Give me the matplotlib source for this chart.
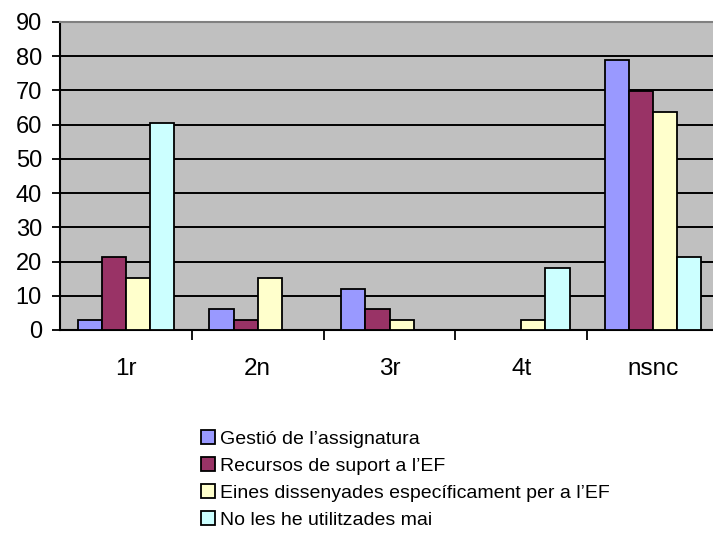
import matplotlib
matplotlib.use('Agg')
import matplotlib.pyplot as plt
import numpy as np

categories = ['1r', '2n', '3r', '4t', 'nsnc']
series_names = ['Gestió de l’assignatura',
                'Recursos de suport a l’EF',
                'Eines dissenyades específicament per a l’EF',
                'No les he utilitzades mai']
gestio = [3.0, 6.1, 12.1, 0, 78.8]
recursos = [21.2, 3.0, 6.1, 0, 69.7]
eines = [15.2, 15.2, 3.0, 3.0, 63.6]
no_util = [60.6, 0, 0, 18.2, 21.2]
colors = ['#9999FF', '#993366', '#FFFFCC', '#CCFFFF']

plt.rcParams['font.family'] = ['Liberation Sans', 'DejaVu Sans']

fig = plt.figure(figsize=(7.13, 5.46), dpi=100)
ax = fig.add_axes([60/713, (546-330)/546, 659/713, 308/546])
ax.set_facecolor('#C0C0C0')

x = np.arange(len(categories))
w = 0.183
for i, vals in enumerate([gestio, recursos, eines, no_util]):
    ax.bar(x + (i - 1.5) * w, vals, w, color=colors[i], edgecolor='black',
           linewidth=1.3, label=series_names[i], zorder=3)

ax.set_xlim(-0.5, 4.5)
ax.set_ylim(0, 90)
ax.set_yticks(range(0, 91, 10))
ax.yaxis.grid(True, color='black', linewidth=1.4, zorder=1)
ax.set_axisbelow(True)
ax.tick_params(axis='y', direction='out', length=6, width=1.3, labelsize=17, pad=7)

ax.set_xticks([0.5, 1.5, 2.5, 3.5])
ax.set_xticklabels([])
ax.set_xticks(x, minor=True)
ax.set_xticklabels(categories, minor=True)
ax.tick_params(axis='x', which='major', direction='out', length=7, width=1.3)
ax.tick_params(axis='x', which='minor', length=0, labelsize=17.5, pad=20)

for s in ['left', 'bottom']:
    ax.spines[s].set_color('black')
    ax.spines[s].set_linewidth(1.5)
ax.spines['top'].set_color('#808080')
ax.spines['top'].set_linewidth(1.5)
ax.spines['right'].set_visible(False)

leg = fig.legend(loc='upper left', bbox_to_anchor=(183/713, 1 - 412/546),
                 frameon=False, handlelength=0.77, handleheight=0.77,
                 handletextpad=0.25, labelspacing=0.47,
                 prop={'size': 14})

fig.savefig('out.png', dpi=100)
